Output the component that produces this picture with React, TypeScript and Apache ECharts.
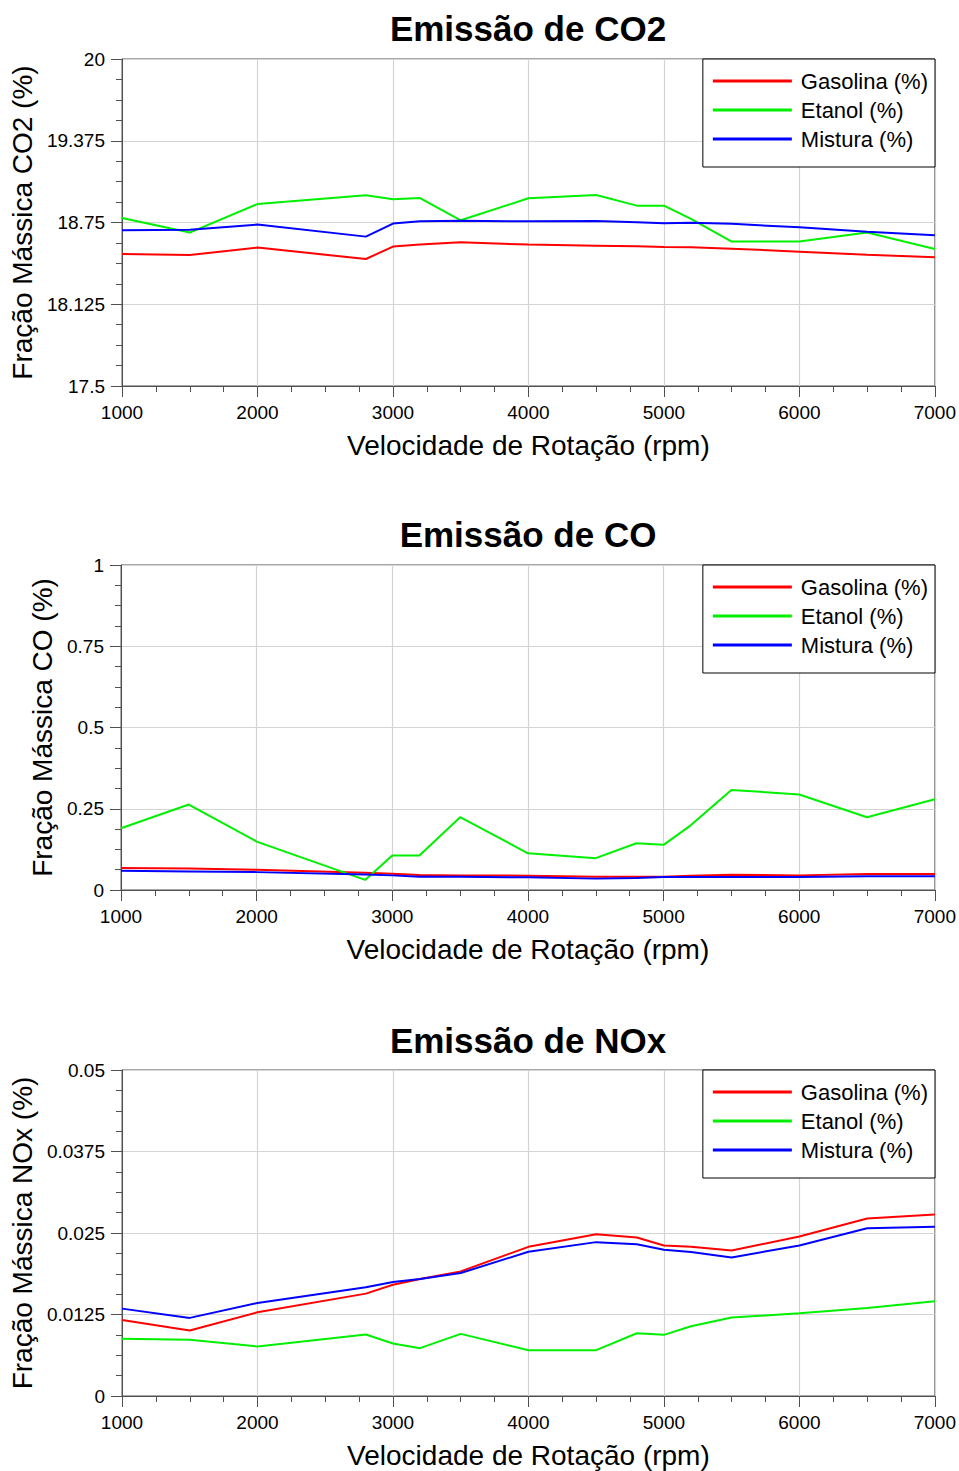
import React, { useEffect, useRef } from "react";
import * as echarts from "echarts";

const rpm = [1000, 1500, 2000, 2800, 3000, 3200, 3500, 4000, 4500, 4800, 5000, 5200, 5500, 6000, 6500, 7000];
const seriesNames = ["Gasolina (%)", "Etanol (%)", "Mistura (%)"];
const seriesColors = ["#ff0000", "#00f000", "#0000ff"];

const co2Gasolina = [18.509, 18.502, 18.558, 18.471, 18.566, 18.581, 18.599, 18.581, 18.573, 18.568, 18.563, 18.56, 18.55, 18.527, 18.504, 18.484];
const co2Etanol = [18.785, 18.673, 18.891, 18.958, 18.927, 18.937, 18.767, 18.935, 18.96, 18.879, 18.879, 18.777, 18.604, 18.604, 18.673, 18.547];
const co2Mistura = [18.69, 18.695, 18.734, 18.642, 18.742, 18.759, 18.764, 18.759, 18.762, 18.752, 18.744, 18.748, 18.74, 18.713, 18.68, 18.652];

const coGasolina = [0.068, 0.066, 0.062, 0.053, 0.05, 0.046, 0.045, 0.044, 0.041, 0.041, 0.041, 0.044, 0.047, 0.045, 0.049, 0.049];
const coEtanol = [0.19, 0.263, 0.149, 0.031, 0.106, 0.106, 0.224, 0.113, 0.098, 0.144, 0.139, 0.199, 0.308, 0.294, 0.224, 0.279];
const coMistura = [0.059, 0.057, 0.055, 0.048, 0.045, 0.041, 0.041, 0.039, 0.035, 0.037, 0.04, 0.04, 0.04, 0.04, 0.042, 0.042];

const noxGasolina = [0.01167, 0.01004, 0.01284, 0.0157, 0.01707, 0.01794, 0.01911, 0.02288, 0.02482, 0.02431, 0.02309, 0.02288, 0.02232, 0.02446, 0.02722, 0.02783];
const noxEtanol = [0.00877, 0.00861, 0.00759, 0.00943, 0.00805, 0.00734, 0.00953, 0.00703, 0.00703, 0.00963, 0.00938, 0.0107, 0.01203, 0.01269, 0.0135, 0.01453];
const noxMistura = [0.0134, 0.01198, 0.01427, 0.01667, 0.01748, 0.01794, 0.01886, 0.02212, 0.0236, 0.02329, 0.02243, 0.02207, 0.02125, 0.02309, 0.02574, 0.02594];

const titles = ["Emissão de CO2", "Emissão de CO", "Emissão de NOx"];
const yNames = ["Fração Mássica CO2 (%)", "Fração Mássica CO (%)", "Fração Mássica NOx (%)"];
const xName = "Velocidade de Rotação (rpm)";
const yMin = [17.5, 0, 0];
const yMax = [20, 1, 0.05];
const yInterval = [0.625, 0.25, 0.0125];
const xMin = 1000;
const xMax = 7000;
const xInterval = 1000;

const FONT = "'Liberation Sans', Arial, sans-serif";

export default function App() {
  const ref = useRef<HTMLDivElement>(null);

  useEffect(() => {
    document.body.style.margin = "0";
    if (!ref.current) return;
    const chart = echarts.init(ref.current, null, { renderer: "svg" });

    const data = [
      [co2Gasolina, co2Etanol, co2Mistura],
      [coGasolina, coEtanol, coMistura],
      [noxGasolina, noxEtanol, noxMistura],
    ];

    const gridTops = [59, 565, 1070];
    const gridHeights = [327, 325, 326];
    const yNameGaps = [85, 59, 85];
    const plotLeft = 121;
    const plotWidth = 814;

    const grids = gridTops.map((t, i) => ({
      left: plotLeft,
      top: t,
      width: plotWidth,
      height: gridHeights[i],
      show: true,
      borderColor: "#505050",
      borderWidth: 1,
      backgroundColor: "transparent",
    }));

    const xAxes = gridTops.map((_, i) => ({
      type: "value",
      gridIndex: i,
      min: xMin,
      max: xMax,
      interval: xInterval,
      name: xName,
      nameLocation: "middle",
      nameGap: 45,
      nameTextStyle: { fontSize: 28, color: "#000", fontFamily: FONT },
      axisLine: { show: true, lineStyle: { color: "#505050", width: 1 } },
      axisTick: { show: true, inside: false, length: 11, lineStyle: { color: "#505050" } },
      minorTick: { show: true, splitNumber: 4, length: 6, lineStyle: { color: "#505050" } },
      splitLine: { show: true, lineStyle: { color: "#d4d4d4", width: 1.2 } },
      axisLabel: {
        fontSize: 19,
        color: "#000",
        margin: 17,
        fontFamily: FONT,
        formatter: (v: number) => String(v),
      },
    }));

    const yAxes = gridTops.map((_, i) => ({
      type: "value",
      gridIndex: i,
      min: yMin[i],
      max: yMax[i],
      interval: yInterval[i],
      name: yNames[i],
      nameLocation: "middle",
      nameRotate: 90,
      nameGap: yNameGaps[i],
      nameTextStyle: { fontSize: 28, color: "#000", fontFamily: FONT },
      axisLine: { show: true, lineStyle: { color: "#505050", width: 1 } },
      axisTick: { show: true, inside: false, length: 11, lineStyle: { color: "#505050" } },
      minorTick: { show: true, splitNumber: 4, length: 6, lineStyle: { color: "#505050" } },
      splitLine: { show: true, lineStyle: { color: "#d4d4d4", width: 1.2 } },
      axisLabel: {
        fontSize: 19,
        color: "#000",
        margin: 17,
        fontFamily: FONT,
        formatter: (v: number) => String(+v.toFixed(5)),
      },
    }));

    const series: any[] = [];
    data.forEach((group, gi) => {
      group.forEach((vals, si) => {
        series.push({
          type: "line",
          name: seriesNames[si],
          xAxisIndex: gi,
          yAxisIndex: gi,
          data: rpm.map((x, k) => [x, vals[k]]),
          symbol: "none",
          lineStyle: { color: seriesColors[si], width: 2 },
          itemStyle: { color: seriesColors[si] },
        });
      });
    });

    const legends = gridTops.map((t) => ({
      orient: "vertical",
      right: 959 - 935,
      top: t,
      data: seriesNames,
      icon: "rect",
      itemWidth: 79,
      itemHeight: 3,
      itemGap: 7,
      padding: [11, 7, 17, 10],
      borderColor: "#000",
      borderWidth: 1,
      backgroundColor: "#fff",
      selectedMode: false,
      textStyle: { fontSize: 22, color: "#000", fontFamily: FONT, lineHeight: 22, padding: [0, 0, 0, 4] },
    }));

    const titleCenters = [28, 534, 1040];
    const graphic = titleCenters.map((y, i) => ({
      type: "text",
      x: plotLeft + plotWidth / 2,
      y,
      style: {
        text: titles[i],
        fontSize: 35,
        fontWeight: "bold",
        fontFamily: FONT,
        fill: "#000",
        textAlign: "center",
        textVerticalAlign: "middle",
      },
    }));

    chart.setOption({
      animation: false,
      backgroundColor: "#fff",
      grid: grids,
      xAxis: xAxes,
      yAxis: yAxes,
      legend: legends,
      series,
      graphic,
    });

    return () => chart.dispose();
  }, []);

  return <div ref={ref} style={{ width: 959, height: 1471 }} />;
}
